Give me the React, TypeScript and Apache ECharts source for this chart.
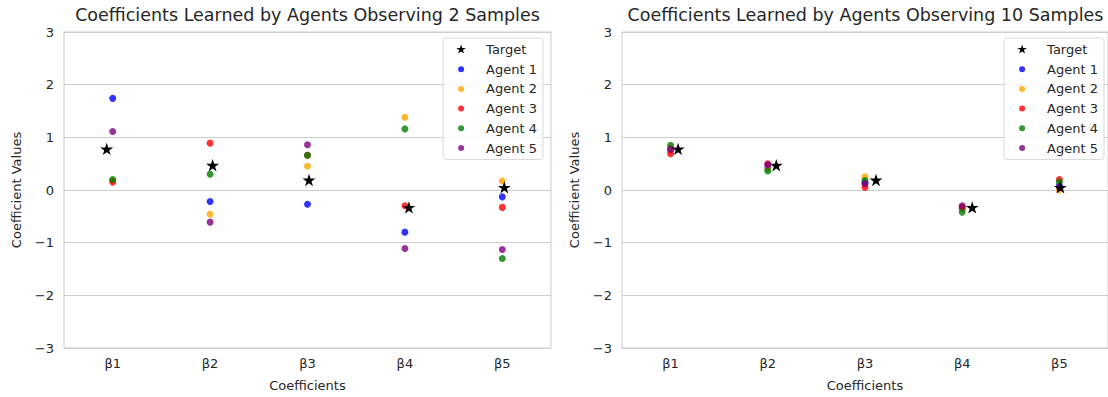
import React, { useEffect, useRef } from "react";
import * as echarts from "echarts";

const categories = ["β1", "β2", "β3", "β4", "β5"];
const agentNames = ["Agent 1", "Agent 2", "Agent 3", "Agent 4", "Agent 5"];
const agentColors = ["#0000ff", "#ffa500", "#ff0000", "#008000", "#800080"];

const target = [0.78, 0.47, 0.19, -0.33, 0.05];

// Panel 1: 2 samples
const s2Agent1 = [1.74, -0.22, -0.27, -0.8, -0.13];
const s2Agent2 = [0.18, -0.46, 0.45, 1.38, 0.17];
const s2Agent3 = [0.15, 0.89, 0.66, -0.3, -0.33];
const s2Agent4 = [0.2, 0.3, 0.66, 1.16, -1.3];
const s2Agent5 = [1.11, -0.61, 0.86, -1.11, -1.13];

// Panel 2: 10 samples
const s10Agent1 = [0.76, 0.42, 0.14, -0.35, 0.08];
const s10Agent2 = [0.8, 0.4, 0.25, -0.36, 0.0];
const s10Agent3 = [0.69, 0.5, 0.05, -0.33, 0.2];
const s10Agent4 = [0.85, 0.36, 0.18, -0.42, 0.15];
const s10Agent5 = [0.78, 0.48, 0.12, -0.3, 0.05];

// strip-plot jitter of the target star (pixels)
const targetJitter2 = [-6, 2.5, 1.5, 4, 2];
const targetJitter10 = [7.5, 8.5, 11, 10, 1];

const titles = [
  "Coefficients Learned by Agents Observing 2 Samples",
  "Coefficients Learned by Agents Observing 10 Samples",
];

const STAR =
  "path://M50 0L61.17 34.63L97.55 34.55L68.07 55.87L79.39 90.45L50 69L20.61 90.45L31.93 55.87L2.45 34.55L38.83 34.63Z";
const STAR_ICON =
  "path://M0 0M30 10M10 0L11.12 3.46L14.76 3.46L11.81 5.59L12.94 9.05L10 6.9L7.06 9.05L8.19 5.59L5.25 3.46L8.88 3.46Z";
const DOT_ICON = "path://M0 0M30 10M7 5A3 3 0 1 1 13 5A3 3 0 1 1 7 5Z";

const FONT = "DejaVu Sans";
const TXT = "#262626";

export default function App() {
  const ref = useRef<HTMLDivElement>(null);
  useEffect(() => {
    if (!ref.current) return;
    const chart = echarts.init(ref.current, undefined, { renderer: "svg" });
    const panels = [
      { agents: [s2Agent1, s2Agent2, s2Agent3, s2Agent4, s2Agent5], jitter: targetJitter2 },
      { agents: [s10Agent1, s10Agent2, s10Agent3, s10Agent4, s10Agent5], jitter: targetJitter10 },
    ];
    const gridLefts = [64, 622];
    const series: any[] = [];
    panels.forEach((p, pi) => {
      p.agents.forEach((vals, ai) => {
        series.push({
          type: "scatter",
          name: agentNames[ai],
          xAxisIndex: pi,
          yAxisIndex: pi,
          symbol: "circle",
          symbolSize: 7,
          itemStyle: { color: agentColors[ai], opacity: 0.8 },
          data: vals.map((v, i) => [categories[i], v]),
          z: 2,
        });
      });
      series.push({
        type: "scatter",
        name: "Target",
        xAxisIndex: pi,
        yAxisIndex: pi,
        symbol: STAR,
        symbolKeepAspect: true,
        symbolSize: 13,
        itemStyle: { color: "#000000", opacity: 1 },
        data: target.map((v, i) => ({ value: [categories[i], v], symbolOffset: [p.jitter[i], 0] })),
        z: 3,
      });
    });
    const legendData = [
      { name: "Target", icon: STAR_ICON },
      ...agentNames.map((n) => ({ name: n, icon: DOT_ICON })),
    ];
    const legendBase = {
      orient: "vertical",
      top: 38,
      itemWidth: 30,
      itemHeight: 10,
      itemGap: 6.7,
      padding: [5, 6, 5, 8],
      backgroundColor: "rgba(255,255,255,0.8)",
      borderColor: "#d9d9d9",
      borderWidth: 1,
      borderRadius: 3,
      selectedMode: false,
      textStyle: { fontSize: 13, color: TXT, fontFamily: FONT },
      data: legendData,
    };
    chart.setOption({
      animation: false,
      textStyle: { fontFamily: FONT },
      title: titles.map((t, i) => ({
        text: t,
        left: gridLefts[i] + 243.5,
        top: 6,
        textAlign: "center",
        padding: 0,
        textStyle: { fontSize: 17.5, fontWeight: "normal", color: TXT, fontFamily: FONT },
      })),
      legend: [
        { ...legendBase, right: 565 },
        { ...legendBase, right: 4 },
      ],
      grid: gridLefts.map((l) => ({
        left: l,
        top: 32,
        width: 487,
        height: 317,
        show: true,
        borderColor: "#cccccc",
        borderWidth: 1,
        backgroundColor: "transparent",
        containLabel: false,
      })),
      xAxis: [0, 1].map((i) => ({
        type: "category",
        gridIndex: i,
        data: categories,
        boundaryGap: true,
        axisLine: { show: false },
        axisTick: { show: false },
        splitLine: { show: false },
        axisLabel: { fontSize: 13, color: TXT, margin: 9, fontFamily: FONT },
        name: "Coefficients",
        nameLocation: "middle",
        nameGap: 31,
        nameTextStyle: { fontSize: 13, color: TXT, fontFamily: FONT },
      })),
      yAxis: [0, 1].map((i) => ({
        type: "value",
        gridIndex: i,
        min: -3,
        max: 3,
        interval: 1,
        axisLine: { show: false },
        axisTick: { show: false },
        splitLine: { show: true, lineStyle: { color: "#cccccc", width: 1 } },
        axisLabel: {
          fontSize: 13,
          color: TXT,
          margin: 10,
          fontFamily: FONT,
          formatter: (v: number) => String(v).replace("-", "\u2212"),
        },
        name: "Coefficient Values",
        nameLocation: "middle",
        nameGap: 41,
        nameTextStyle: { fontSize: 13, color: TXT, fontFamily: FONT },
      })),
      series,
    });
    return () => chart.dispose();
  }, []);
  return (
    <div
      ref={ref}
      style={{ position: "absolute", left: 0, top: 0, width: 1108, height: 397, background: "#ffffff" }}
    />
  );
}
